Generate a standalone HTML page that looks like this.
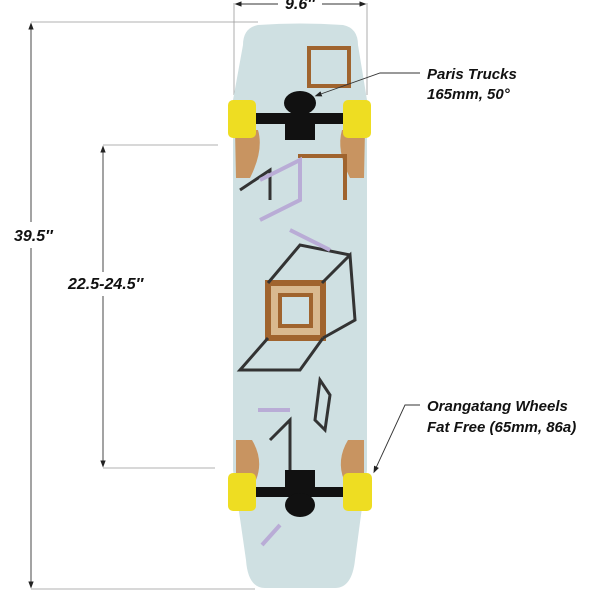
<!DOCTYPE html>
<html><head><style>
html,body{margin:0;padding:0;background:#fff;}
svg{display:block}
text{font-family:"Liberation Sans",sans-serif;font-weight:bold;font-style:italic;fill:#111;}
</style></head><body>
<svg width="600" height="600" viewBox="0 0 600 600" xmlns="http://www.w3.org/2000/svg">
<defs>
<marker id="a" markerWidth="8" markerHeight="8" refX="4" refY="4" orient="auto-start-reverse"><path d="M0,1 L8,4 L0,7z" fill="#222"/></marker>
</defs>
<g stroke="#999" stroke-width="0.8" fill="none">
<line x1="31" y1="22" x2="258" y2="22"/>
<line x1="31" y1="589" x2="255" y2="589"/>
<line x1="103" y1="145" x2="218" y2="145"/>
<line x1="103" y1="468" x2="215" y2="468"/>
<line x1="234" y1="3" x2="234" y2="95"/>
<line x1="367" y1="3" x2="367" y2="95"/>
</g>
<g stroke="#333" stroke-width="0.9">
<line x1="31" y1="26" x2="31" y2="222" marker-start="url(#a)"/>
<line x1="31" y1="248" x2="31" y2="585" marker-end="url(#a)"/>
<line x1="103" y1="149" x2="103" y2="272" marker-start="url(#a)"/>
<line x1="103" y1="296" x2="103" y2="464" marker-end="url(#a)"/>
<line x1="238" y1="4" x2="278" y2="4" marker-start="url(#a)"/>
<line x1="322" y1="4" x2="363" y2="4" marker-end="url(#a)"/>
</g>
<text x="14" y="241" font-size="16">39.5″</text>
<text x="68" y="289" font-size="16">22.5-24.5″</text>
<text x="285" y="9" font-size="16">9.6″</text>
<path d="M258,25 Q300,22 343,25 Q358,28 358,45 L367,100 L367,470 L355,560 Q352,588 335,588 L265,588 Q248,588 246,560 L233,470 L233,100 L243,45 Q243,28 258,25z" fill="#cfe0e2"/>
<path d="M235,130 L258,130 Q264,150 250,178 L236,178z" fill="#c89461"/>
<path d="M365,130 L342,130 Q336,150 350,178 L364,178z" fill="#c89461"/>
<path d="M236,440 L252,440 Q264,460 256,480 L236,480z" fill="#c89461"/>
<path d="M364,440 L348,440 Q336,460 344,480 L364,480z" fill="#c89461"/>
<g fill="none" stroke="#a0642e" stroke-width="4">
<rect x="309" y="48" width="40" height="38"/>
<path d="M298,156 L345,156 L345,200"/>
<rect x="268" y="283" width="55" height="55" stroke-width="6" fill="#d9b98f"/>
<rect x="280" y="295" width="31" height="31" stroke-width="4" fill="#cfe0e2"/>
</g>
<g fill="none" stroke="#333" stroke-width="3">
<path d="M322,283 L350,255 L355,320 L323,338"/>
<path d="M268,283 L300,245 L350,255"/>
<path d="M268,338 L240,370 L300,370 L323,338"/>
<path d="M320,380 L330,395 L325,430 L315,420z"/>
<path d="M270,440 L290,420 L290,470"/>
<path d="M240,190 L270,170 L270,200"/>
</g>
<g fill="none" stroke="#b9acd6" stroke-width="4">
<path d="M260,180 L300,160 L300,200 L260,220"/>
<path d="M290,230 L330,250"/>
<path d="M258,410 L290,410"/>
<path d="M262,545 L280,525"/>
</g>
<ellipse cx="300" cy="103" rx="16" ry="12" fill="#111"/>
<rect x="255" y="113" width="90" height="11" fill="#111"/>
<rect x="285" y="124" width="30" height="16" fill="#111"/>
<rect x="228" y="100" width="28" height="38" rx="5" fill="#eedd22"/>
<rect x="343" y="100" width="28" height="38" rx="5" fill="#eedd22"/>
<rect x="285" y="470" width="30" height="18" fill="#111"/>
<rect x="255" y="487" width="90" height="10" fill="#111"/>
<ellipse cx="300" cy="505" rx="15" ry="12" fill="#111"/>
<rect x="228" y="473" width="28" height="38" rx="5" fill="#eedd22"/>
<rect x="343" y="473" width="29" height="38" rx="5" fill="#eedd22"/>
<g stroke="#333" stroke-width="0.9" fill="none">
<path d="M420,73 L380,73 L318,95" marker-end="url(#a)"/>
<path d="M420,405 L405,405 L375,470" marker-end="url(#a)"/>
</g>
<text x="427" y="79" font-size="15">Paris Trucks</text>
<text x="427" y="99" font-size="15">165mm, 50°</text>
<text x="427" y="411" font-size="15">Orangatang Wheels</text>
<text x="427" y="432" font-size="15">Fat Free (65mm, 86a)</text>
</svg>
</body></html>
